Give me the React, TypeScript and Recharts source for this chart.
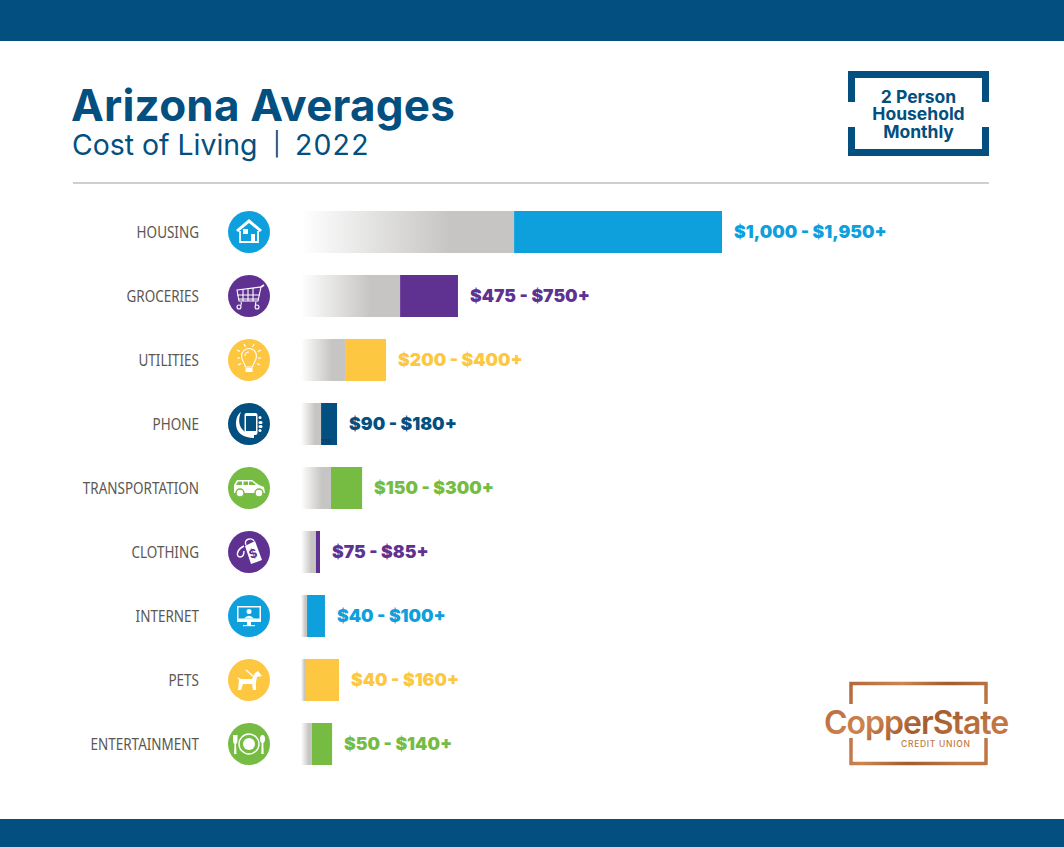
import React from "react";
import { BarChart, Bar, Cell, XAxis, YAxis, LabelList } from "recharts";

const NAVY = "#034f80";
const BLUE = "#0ea0dc";
const PURPLE = "#5f3292";
const YELLOW = "#fec742";
const GREEN = "#76bc43";
const GREY = "#c6c5c3";

const categories = ["HOUSING", "GROCERIES", "UTILITIES", "PHONE", "TRANSPORTATION", "CLOTHING", "INTERNET", "PETS", "ENTERTAINMENT"];
const rangeLabels = ["$1,000 - $1,950+", "$475 - $750+", "$200 - $400+", "$90 - $180+", "$150 - $300+", "$75 - $85+", "$40 - $100+", "$40 - $160+", "$50 - $140+"];
// bar ends, the drawn bars don't quite follow the printed ranges
const lowValues = [987, 459, 204, 93, 139, 69, 28, 23, 51];
const highValues = [1950, 727, 394, 167, 283, 88, 111, 176, 144];
const colors = [BLUE, PURPLE, YELLOW, NAVY, GREEN, PURPLE, BLUE, YELLOW, GREEN];

const data = categories.map((name, i) => ({
  name,
  low: lowValues[i],
  rest: highValues[i] - lowValues[i],
  range: rangeLabels[i],
}));

const Icon = ({ name }: { name: string }) => {
  const line = { fill: "none", stroke: "#fff", strokeWidth: 1.4 };
  switch (name) {
    case "HOUSING":
      return (
        <g>
          <path d="M-13 -2 L0 -13 L13 -2 L11 0 L0 -9 L-11 0 Z" fill="#fff" />
          <path d="M-9 -1 V10 H9 V-1" {...line} strokeWidth={1.8} />
          <rect x={-6} y={-3} width={5} height={5} fill="#fff" />
          <rect x={2} y={2} width={4} height={8} fill="#fff" />
        </g>
      );
    case "GROCERIES":
      return (
        <g {...line} strokeWidth={1.1}>
          <path d="M-12 -6 L12 -9 L9 5 H-10 Z" />
          <path d="M-12 -1 H10.5 M-11 3 H9.5 M-6 -7 V5 M-1 -7.5 V5 M4 -8 V5" />
          <path d="M12 -9 L15 -11" strokeWidth={1.8} />
          <path d="M-8 6 Q-7 9 -9 10 M7 6 Q6 9 7 10" />
          <circle cx={-10} cy={11} r={2} />
          <circle cx={8} cy={11} r={2} />
        </g>
      );
    case "UTILITIES":
      return (
        <g {...line} strokeWidth={1.1}>
          <path d="M-3.5 7 C-4 3 -7.5 1 -7.5 -4 A7.5 7.5 0 0 1 7.5 -4 C7.5 1 4 3 3.5 7 Z" />
          <path d="M-4 -4 A4 4 0 0 1 0 -8" />
          <rect x={-3.5} y={8} width={7} height={4} fill="#fff" stroke="none" />
          <path d="M-5 -16 L-3.5 -13 M5 -16 L3.5 -13 M-12 -10 L-9 -8.5 M12 -10 L9 -8.5 M-12 -2 L-9 -2 M12 -2 L9 -2 M-11 5 L-8 3.5 M11 5 L8 3.5" />
        </g>
      );
    case "PHONE":
      return (
        <g>
          <path d="M-8 -12 C-11 -5 -10 1 -7 5 C-4 9 0 10 5 11 V14 C-5 14 -13 9 -13 0 C-13 -6 -11 -10 -8 -12 Z" fill="#fff" />
          <rect x={-4.5} y={-11} width={13} height={22} rx={2} fill="#fff" />
          <rect x={-3} y={-8} width={10} height={15} fill={NAVY} />
          <rect x={9.5} y={-8} width={3} height={3} rx={1.5} fill="#fff" />
          <rect x={9.5} y={-3} width={4} height={3} rx={1.5} fill="#fff" />
          <rect x={9.5} y={1} width={4} height={3} rx={1.5} fill="#fff" />
          <rect x={9.5} y={5} width={3} height={3} rx={1.5} fill="#fff" />
        </g>
      );
    case "TRANSPORTATION":
      return (
        <g>
          <path d="M-15 5 V-3 L-12 -8 H3 L10 -3 L15 -1 L16 5 Z" fill="#fff" />
          <path d="M-11 -6.5 H-7 V-3 H-13 Z M-5.5 -6.5 H-1 V-3 H-5.5 Z M0 -6.5 H3 L7 -3 H0 Z" fill={GREEN} />
          <circle cx={-9} cy={5} r={4} fill="#fff" stroke={GREEN} strokeWidth={1.5} />
          <circle cx={10} cy={5} r={4} fill="#fff" stroke={GREEN} strokeWidth={1.5} />
        </g>
      );
    case "CLOTHING":
      return (
        <g>
          <path d="M-4 -6 L6 -11 L13 8 L2 12 Z" fill="#fff" />
          <text x={4} y={6} textAnchor="middle" fontSize={12} fontWeight={700} fontFamily="Inter" fill={PURPLE} transform="rotate(-20 4 2)">$</text>
          <path d="M-3 -7 C-6 -13 3 -15 5 -11 M-5 -6 C-13 -2 -13 5 -9 5 C-6 5 -5 2 -5 -1" {...line} />
        </g>
      );
    case "INTERNET":
      return (
        <g>
          <rect x={-12} y={-10} width={24} height={16} fill="#fff" />
          <rect x={-10.5} y={-8.5} width={21} height={11} fill={BLUE} />
          <circle cy={-4.5} r={2.5} fill="#fff" />
          <path d="M-5 2.5 Q0 -3 5 2.5 Z" fill="#fff" />
          <rect x={-2} y={6} width={4} height={3} fill="#fff" />
          <rect x={-6} y={9} width={12} height={1.2} fill="#fff" />
        </g>
      );
    case "PETS":
      return (
        <g>
          <path d="M-12 -3 L-10 0 L-11 10 L-8 10 L-6 4 L3 4 L4 10 L7 10 L7 2 L8 -3 L13 -4 L9 -9 L6 -7 L3 -1 L-8 -1 Z" fill="#fff" />
          <path d="M-3 -10 L5 -3" {...line} />
        </g>
      );
    default:
      return (
        <g>
          <circle r={10} {...line} />
          <circle r={6} fill="#fff" />
          <path d="M-16 -9 V-4 Q-16 -1 -14.5 0 L-15 10 H-12.5 L-13 0 Q-11.5 -1 -11.5 -4 V-9 Z" fill="#fff" />
          <ellipse cx={13.5} cy={-5} rx={2.5} ry={4} fill="#fff" />
          <path d="M12.7 -2 L12.3 10 H14.7 L14.3 -2 Z" fill="#fff" />
        </g>
      );
  }
};

const CategoryTick = (props: any) => {
  const { y, payload, index } = props;
  return (
    <g>
      <text transform={`translate(199 ${y}) scale(0.87 1)`} dy={6} textAnchor="end" fontSize={15.5} fill="#5b5752" fontFamily="'Noto Sans', sans-serif">
        {payload.value}
      </text>
      <g transform={`translate(249 ${y})`}>
        <circle r={21} fill={colors[index]} />
        <Icon name={payload.value} />
      </g>
    </g>
  );
};

const RangeLabel = (props: any) => {
  const { x, y, width, height, value, index } = props;
  return (
    <g>
      <text x={x + width + 12} y={y + height / 2} dy={6} fontSize={17.6} fontWeight={900} fill={colors[index]} fontFamily="Inter, sans-serif">
        {value}
      </text>
      {/* the little stray "250" printed at the foot of the phone bar */}
      {categories[index] === "PHONE" && (
        <text x={x} y={y + height - 1} fontSize={5.5} fill="#12304a" fontFamily="Inter, sans-serif">250</text>
      )}
    </g>
  );
};

const absolute: React.CSSProperties = { position: "absolute", margin: 0, whiteSpace: "nowrap" };

const Badge = () => (
  <div style={{ ...absolute, left: 848, top: 71, width: 141, height: 85, color: NAVY }}>
    <svg width={141} height={85} style={{ position: "absolute", left: 0, top: 0 }}>
      <path d="M3.5 31 V3.5 H137.5 V31 M3.5 56 V81.5 H137.5 V56" fill="none" stroke={NAVY} strokeWidth={7} />
    </svg>
    <div style={{ position: "absolute", left: 0, right: 0, top: 16.5, textAlign: "center", font: "700 17.5px/17.5px Inter, sans-serif" }}>
      2 Person<br />Household<br />Monthly
    </div>
  </div>
);

const Logo = () => (
  <svg width={230} height={110} style={{ position: "absolute", left: 800, top: 670 }}>
    <defs>
      <linearGradient id="copper" x1="0" y1="0" x2="1" y2="0.3">
        <stop offset="0%" stopColor="#b4693a" />
        <stop offset="35%" stopColor="#cc8450" />
        <stop offset="65%" stopColor="#a55c2e" />
        <stop offset="100%" stopColor="#bf7644" />
      </linearGradient>
    </defs>
    <path d="M51 34 V13.5 H186 V95 M51 68 V93.5 H186" fill="none" stroke="url(#copper)" strokeWidth={3.5} />
    <rect x={20} y={34} width={195} height={34} fill="#fff" />
    <text x={24} y={64} fontSize={32} fontWeight={600} fill="url(#copper)" fontFamily="Inter, sans-serif" letterSpacing={-1} wordSpacing={-7}>Copper State</text>
    <text x={101} y={77} fontSize={8.5} fontWeight={500} fill="#c07a48" fontFamily="Inter, sans-serif" letterSpacing={0.7}>CREDIT UNION</text>
  </svg>
);

export default function App() {
  return (
    <div style={{ position: "absolute", left: 0, top: 0, width: 1064, height: 847, background: "#fff", overflow: "hidden" }}>
      <div style={{ ...absolute, left: 0, top: 0, width: 1064, height: 41, background: NAVY }} />
      <div style={{ ...absolute, left: 0, top: 819, width: 1064, height: 28, background: NAVY }} />
      <h1 style={{ ...absolute, left: 71, top: 78, color: NAVY, font: "700 44px/54px Inter, sans-serif", letterSpacing: 0.2 }}>Arizona Averages</h1>
      <div style={{ ...absolute, left: 72, top: 127, color: NAVY, font: "400 28.4px/36px Inter, sans-serif" }}>
        Cost of Living
        <span style={{ position: "absolute", left: 201, top: -1, fontSize: 23 }}>|</span>
        <span style={{ position: "absolute", left: 223, top: 0, letterSpacing: 1.2 }}>2022</span>
      </div>
      <div style={{ ...absolute, left: 73, top: 182, width: 916, height: 2, background: "#cfcfcf" }} />
      <Badge />
      <Logo />
      <div style={{ position: "absolute", left: 0, top: 0 }}>
        <BarChart width={1064} height={847} layout="vertical" data={data} barSize={42} margin={{ top: 200, right: 342, bottom: 71, left: 0 }}>
          <defs>
            <linearGradient id="fade" x1="0" y1="0" x2="1" y2="0">
              <stop offset="0%" stopColor="#fff" />
              <stop offset="70%" stopColor={GREY} />
              <stop offset="100%" stopColor={GREY} />
            </linearGradient>
          </defs>
          <XAxis type="number" hide domain={[0, 1950]} />
          <YAxis type="category" dataKey="name" width={301} axisLine={false} tickLine={false} interval={0} tick={<CategoryTick />} />
          <Bar dataKey="low" stackId="range" fill="url(#fade)" isAnimationActive={false} />
          <Bar dataKey="rest" stackId="range" isAnimationActive={false}>
            {data.map((d, i) => (
              <Cell key={d.name} fill={colors[i]} />
            ))}
            <LabelList dataKey="range" content={<RangeLabel />} />
          </Bar>
        </BarChart>
      </div>
    </div>
  );
}
